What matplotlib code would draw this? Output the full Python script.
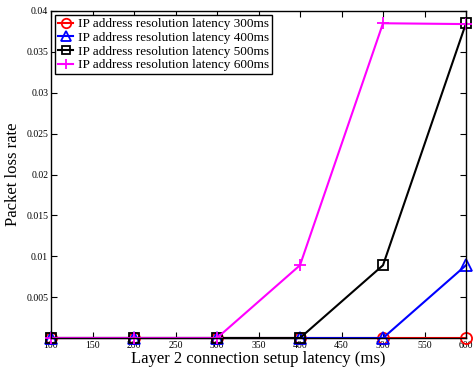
import matplotlib
matplotlib.use("Agg")
from matplotlib import pyplot as plt

setup_latency = [100, 200, 300, 400, 500, 600]
loss_300 = [0, 0, 0, 0, 0, 0]
loss_400 = [0, 0, 0, 0, 0, 0.0089]
loss_500 = [0, 0, 0, 0, 0.0089, 0.0385]
loss_600 = [0, 0, 0, 0.0089, 0.0385, 0.0384]

plt.rcParams['font.family'] = ['Liberation Serif', 'DejaVu Serif']

fig = plt.figure(figsize=(4.74, 3.71), dpi=100)
ax = fig.add_axes([51/474, 1-338/371, 415/474, 327/371])

ax.plot(setup_latency, loss_300, color='red', marker='o', markersize=8, mfc='none', mew=1.3, lw=1.5,
        label='IP address resolution latency 300ms', clip_on=False)
ax.plot(setup_latency, loss_400, color='blue', marker='^', markersize=8, mfc='none', mew=1.3, lw=1.5,
        label='IP address resolution latency 400ms', clip_on=False)
ax.plot(setup_latency, loss_500, color='black', marker='s', markersize=7, mfc='none', mew=1.3, lw=1.5,
        label='IP address resolution latency 500ms', clip_on=False)
ax.plot(setup_latency, loss_600, color='magenta', marker='+', markersize=9, mew=1.3, lw=1.5,
        label='IP address resolution latency 600ms', clip_on=False)

ax.set_xlim(100, 600)
ax.set_ylim(0, 0.04)
ax.set_xticks(range(100, 601, 50))
ax.set_yticks([0.005, 0.01, 0.015, 0.02, 0.025, 0.03, 0.035, 0.04])
ax.set_yticklabels(['0.005', '0.01', '0.015', '0.02', '0.025', '0.03', '0.035', '0.04'])
ax.tick_params(direction='in', top=True, right=True, labelsize=7, length=4, pad=2)
for s in ax.spines.values():
    s.set_linewidth(1.0)

ax.set_xlabel('Layer 2 connection setup latency (ms)', fontsize=12, labelpad=1)
ax.set_ylabel('Packet loss rate', fontsize=12, labelpad=4)

leg = ax.legend(loc='upper left', fontsize=9.5, fancybox=False, framealpha=1,
                edgecolor='black', borderpad=0.25, labelspacing=0.1, handlelength=1.1,
                handletextpad=0.4, borderaxespad=0.3, markerscale=0.85)
leg.get_frame().set_linewidth(1.0)

fig.savefig('out.png', dpi=100)
